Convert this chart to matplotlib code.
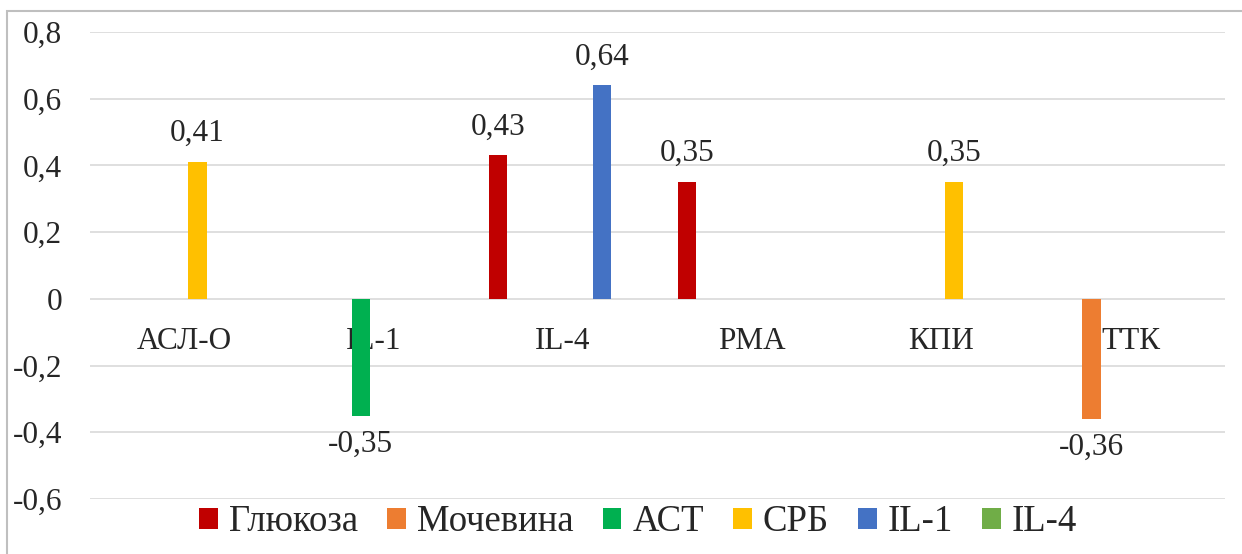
import numpy as np
import matplotlib
matplotlib.use('Agg')
from matplotlib import pyplot as plt
from matplotlib.patches import Rectangle

plt.rcParams['font.family'] = ['Liberation Serif', 'DejaVu Serif']

categories = ['АСЛ-О', 'IL-1', 'IL-4', 'РМА', 'КПИ', 'ТТК']
series = ['Глюкоза', 'Мочевина', 'АСТ', 'СРБ', 'IL-1', 'IL-4']
glucose = [0, 0, 0.43, 0.35, 0, 0]
urea = [0, 0, 0, 0, 0, -0.36]
ast = [0, -0.35, 0, 0, 0, 0]
crp = [0.41, 0, 0, 0, 0.35, 0]
il1 = [0, 0, 0.64, 0, 0, 0]
il4 = [0, 0, 0, 0, 0, 0]
colors = ['#C00000', '#ED7D31', '#00B050', '#FFC000', '#4472C4', '#70AD47']

fs = 22.5
txt = '#262626'

fig = plt.figure(figsize=(12.42, 5.54), dpi=100)
ax = fig.add_axes([90 / 1242, 55 / 554, 1135 / 1242, 467 / 554])

x = np.arange(len(categories))
slot = 0.137
width = 0.096
for i, (name, vals, c) in enumerate(zip(series, [glucose, urea, ast, crp, il1, il4], colors)):
    pos = x + (i - 2.5) * slot
    bars = ax.bar(pos, vals, width, color=c, label=name, zorder=3)
    for b, v in zip(bars, vals):
        if v == 0:
            continue
        lbl = f'{v:.2f}'.replace('.', ',')
        off = 10 if v > 0 else -10
        ax.annotate(lbl, (b.get_x() + b.get_width() / 2, v), xytext=(0, off),
                    textcoords='offset points', ha='center',
                    va='bottom' if v > 0 else 'top', fontsize=fs, color=txt)

ax.set_xlim(-0.5, len(categories) - 0.5)
ax.set_ylim(-0.6, 0.8)
yt = np.arange(-0.6, 0.81, 0.2)
ax.set_yticks(yt)
ax.set_yticklabels([('%g' % round(v, 1)).replace('.', ',') for v in yt], fontsize=fs, color=txt)
ax.yaxis.grid(True, color='#d9d9d9', linewidth=1.2, zorder=0)
ax.tick_params(axis='y', length=0, pad=20)

ax.spines['bottom'].set_position(('data', 0))
for s in ['top', 'right', 'left', 'bottom']:
    ax.spines[s].set_visible(False)
ax.set_xticks(x)
ax.set_xticklabels(categories, fontsize=fs, color=txt)
ax.tick_params(axis='x', length=0, pad=20)

ax.legend(loc='center', bbox_to_anchor=(0.483, -23 / 467), ncol=6, frameon=False,
          fontsize=26.5, handlelength=0.5, handleheight=0.5, handletextpad=0.3,
          columnspacing=0.8, labelcolor=txt, borderpad=0)

fig.patches.append(Rectangle((7 / 1242, -0.01), 1.1, 1 - 11 / 554 + 0.01,
                             transform=fig.transFigure, fill=False,
                             edgecolor='#bfbfbf', linewidth=1.5))

fig.savefig('out.png', dpi=100)
